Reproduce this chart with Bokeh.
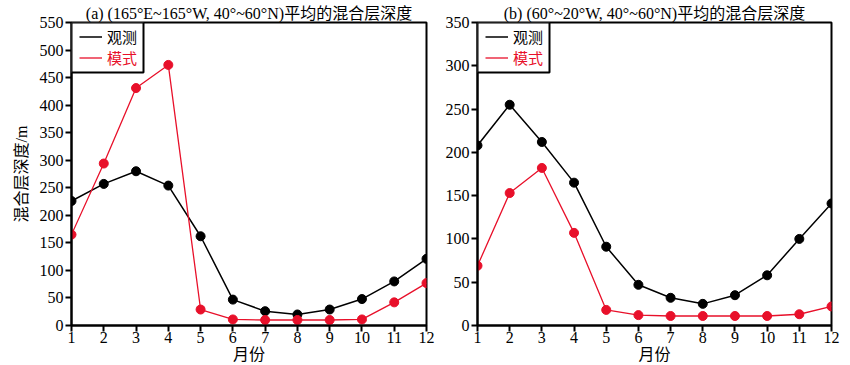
from bokeh.plotting import figure
from bokeh.layouts import row
from bokeh.models import Legend, LegendItem, BoxAnnotation, FixedTicker, Range1d
from bokeh.embed import file_html
from bokeh.resources import INLINE

# ---------------- data ----------------
months = [1, 2, 3, 4, 5, 6, 7, 8, 9, 10, 11, 12]

obs_a = [226, 257, 280, 254, 162, 47, 26, 20, 29, 48, 80, 121]
mod_a = [165, 294, 431, 473, 29, 11, 10, 10, 10, 11, 42, 77]

obs_b = [208, 255, 212, 165, 91, 47, 32, 25, 35, 58, 100, 141]
mod_b = [69, 153, 182, 107, 18, 12, 11, 11, 11, 11, 13, 22]

yticks_a = [0, 50, 100, 150, 200, 250, 300, 350, 400, 450, 500, 550]
yticks_b = [0, 50, 100, 150, 200, 250, 300, 350]

title_a = "(a) (165°E~165°W, 40°~60°N)平均的混合层深度"
title_b = "(b) (60°~20°W, 40°~60°N)平均的混合层深度"
ylabel = "混合层深度/m"
xlabel = "月份"
legend_labels = ["观测", "模式"]

# ---------------- style ----------------
FONT = "Liberation Serif, Noto Sans CJK SC"
BLACK = "#000000"
RED = "#e8102a"
H = 365
FRAME_H = 303


def make_panel(title, obs, mod, yticks, width, left, right, ylab):
    p = figure(width=width, height=H,
               x_range=Range1d(months[0], months[-1]),
               y_range=Range1d(yticks[0], yticks[-1]),
               output_backend="svg", toolbar_location=None,
               min_border_left=left, min_border_right=right,
               min_border_top=22, min_border_bottom=H - 22 - FRAME_H,
               background_fill_color="white", border_fill_color="white")
    p.title.text = title
    p.title.align = "center"
    p.title.text_font = FONT
    p.title.text_font_size = "16px"
    p.title.text_font_style = "normal"
    p.title.text_color = BLACK
    p.title.standoff = 1

    p.xgrid.visible = False
    p.ygrid.visible = False
    p.outline_line_color = BLACK
    p.outline_line_width = 2

    p.xaxis.ticker = FixedTicker(ticks=months)
    p.yaxis.ticker = FixedTicker(ticks=yticks)
    for ax in (p.xaxis, p.yaxis):
        ax.axis_line_width = 2
        ax.axis_line_color = BLACK
        ax.major_tick_line_width = 2
        ax.major_tick_line_color = BLACK
        ax.major_tick_in = 0
        ax.major_tick_out = 6
        ax.minor_tick_line_color = None
        ax.major_label_text_font = FONT
        ax.major_label_text_font_size = "16px"
        ax.major_label_text_color = BLACK
        ax.axis_label_text_color = BLACK
    p.xaxis.major_label_standoff = 0
    p.yaxis.major_label_standoff = 2
    p.xaxis.axis_label = xlabel
    p.xaxis.axis_label_text_font = FONT
    p.xaxis.axis_label_text_font_size = "16px"
    p.xaxis.axis_label_text_font_style = "normal"
    p.xaxis.axis_label_standoff = 0
    if ylab:
        p.yaxis.axis_label = ylab
        p.yaxis.axis_label_text_font = FONT
        p.yaxis.axis_label_text_font_size = "16px"
        p.yaxis.axis_label_text_font_style = "normal"
        p.yaxis.axis_label_standoff = 7

    r_obs = p.line(months, obs, line_color=BLACK, line_width=1.5)
    p.scatter(months, obs, size=9, fill_color=BLACK, line_color=BLACK)
    r_mod = p.line(months, mod, line_color=RED, line_width=1.3)
    p.scatter(months, mod, size=9, fill_color=RED, line_color=RED)

    # legend box
    box = BoxAnnotation(left=0, right=72, top=FRAME_H, bottom=FRAME_H - 50,
                        left_units="screen", right_units="screen",
                        top_units="screen", bottom_units="screen",
                        fill_color="white", fill_alpha=1.0,
                        line_color=BLACK, line_width=2, line_alpha=1.0)
    p.add_layout(box)
    for lab, r, col, vy in ((legend_labels[0], r_obs, BLACK, FRAME_H - 24.5),
                            (legend_labels[1], r_mod, RED, FRAME_H - 45.5)):
        leg = Legend(items=[LegendItem(label=lab, renderers=[r])],
                     location=(8, vy), padding=0, margin=0, spacing=0,
                     glyph_width=23, glyph_height=21, label_height=21,
                     label_standoff=5, border_line_alpha=0,
                     background_fill_alpha=0,
                     label_text_font=FONT, label_text_font_size="15px",
                     label_text_color=col)
        p.add_layout(leg)
    return p


p1 = make_panel(title_a, obs_a, mod_a, yticks_a, 436, 71, 10, ylabel)
p2 = make_panel(title_b, obs_b, mod_b, yticks_b, 413, 41, 18, None)

layout = row(p1, p2)
open("out.html", "w").write(file_html(layout, INLINE))
